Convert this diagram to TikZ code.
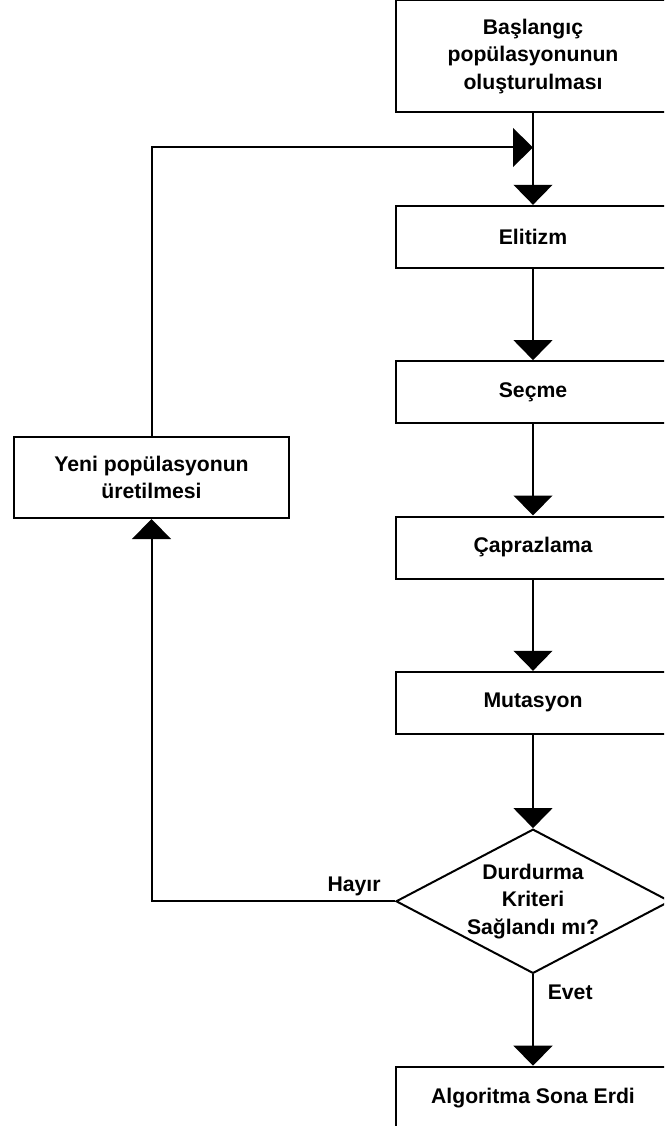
\documentclass[tikz,border=0pt]{standalone}
\usepackage{fontspec}
\setmainfont{Liberation Sans}
\usetikzlibrary{arrows.meta,positioning,shapes.geometric}

\begin{document}
\begin{tikzpicture}[
  x=0.75pt, y=-0.75pt,
  font=\fontsize{15.9}{20.6}\selectfont\bfseries, node distance=68.5pt,
  stepbox/.style={draw, line width=1.5pt, align=center, minimum width=205.5pt, minimum height=46.5pt, inner sep=2pt},
  decision/.style={draw, diamond, aspect=1.9, line width=1.5pt, align=center, minimum width=204pt, minimum height=106.5pt, inner sep=0pt},
  flow/.style={line width=1.5pt, -{Triangle[length=15pt,width=29pt]}}]
\clip (0,0) rectangle (664,1126);
\node[stepbox, minimum height=84pt] (start) at (533,56.5) {Başlangıç\\popülasyonunun\\oluşturulması};
\node[stepbox, below=of start] (elit) {Elitizm};
\node[stepbox, below=of elit] (secme) {Seçme};
\node[stepbox, below=of secme] (capraz) {Çaprazlama};
\node[stepbox, below=of capraz] (mutas) {Mutasyon};
\node[decision, below=70pt of mutas] (cond) {Durdurma\\Kriteri\\Sağlandı mı?};
\node[stepbox, below=of cond] (son) {Algoritma Sona Erdi};
\node[stepbox, minimum width=206.25pt, minimum height=60.75pt] (yeni) at (151.5,477.5) {Yeni popülasyonun\\üretilmesi};
\coordinate[below=25.5pt of start.south] (join);
% main column
\draw[flow] (start) -- (elit);
\draw[flow] (elit) -- (secme);
\draw[flow] (secme) -- (capraz);
\draw[flow] (capraz) -- (mutas);
\draw[flow] (mutas) -- (cond);
\draw[flow] (cond) -- node[pos=0.2, right=7pt]{Evet} (son);
% loop back
\draw[flow] (cond.west) -| node[pos=0.084, above]{Hayır} (yeni);
\draw[flow] (yeni) |- (join);
\end{tikzpicture}
\end{document}
